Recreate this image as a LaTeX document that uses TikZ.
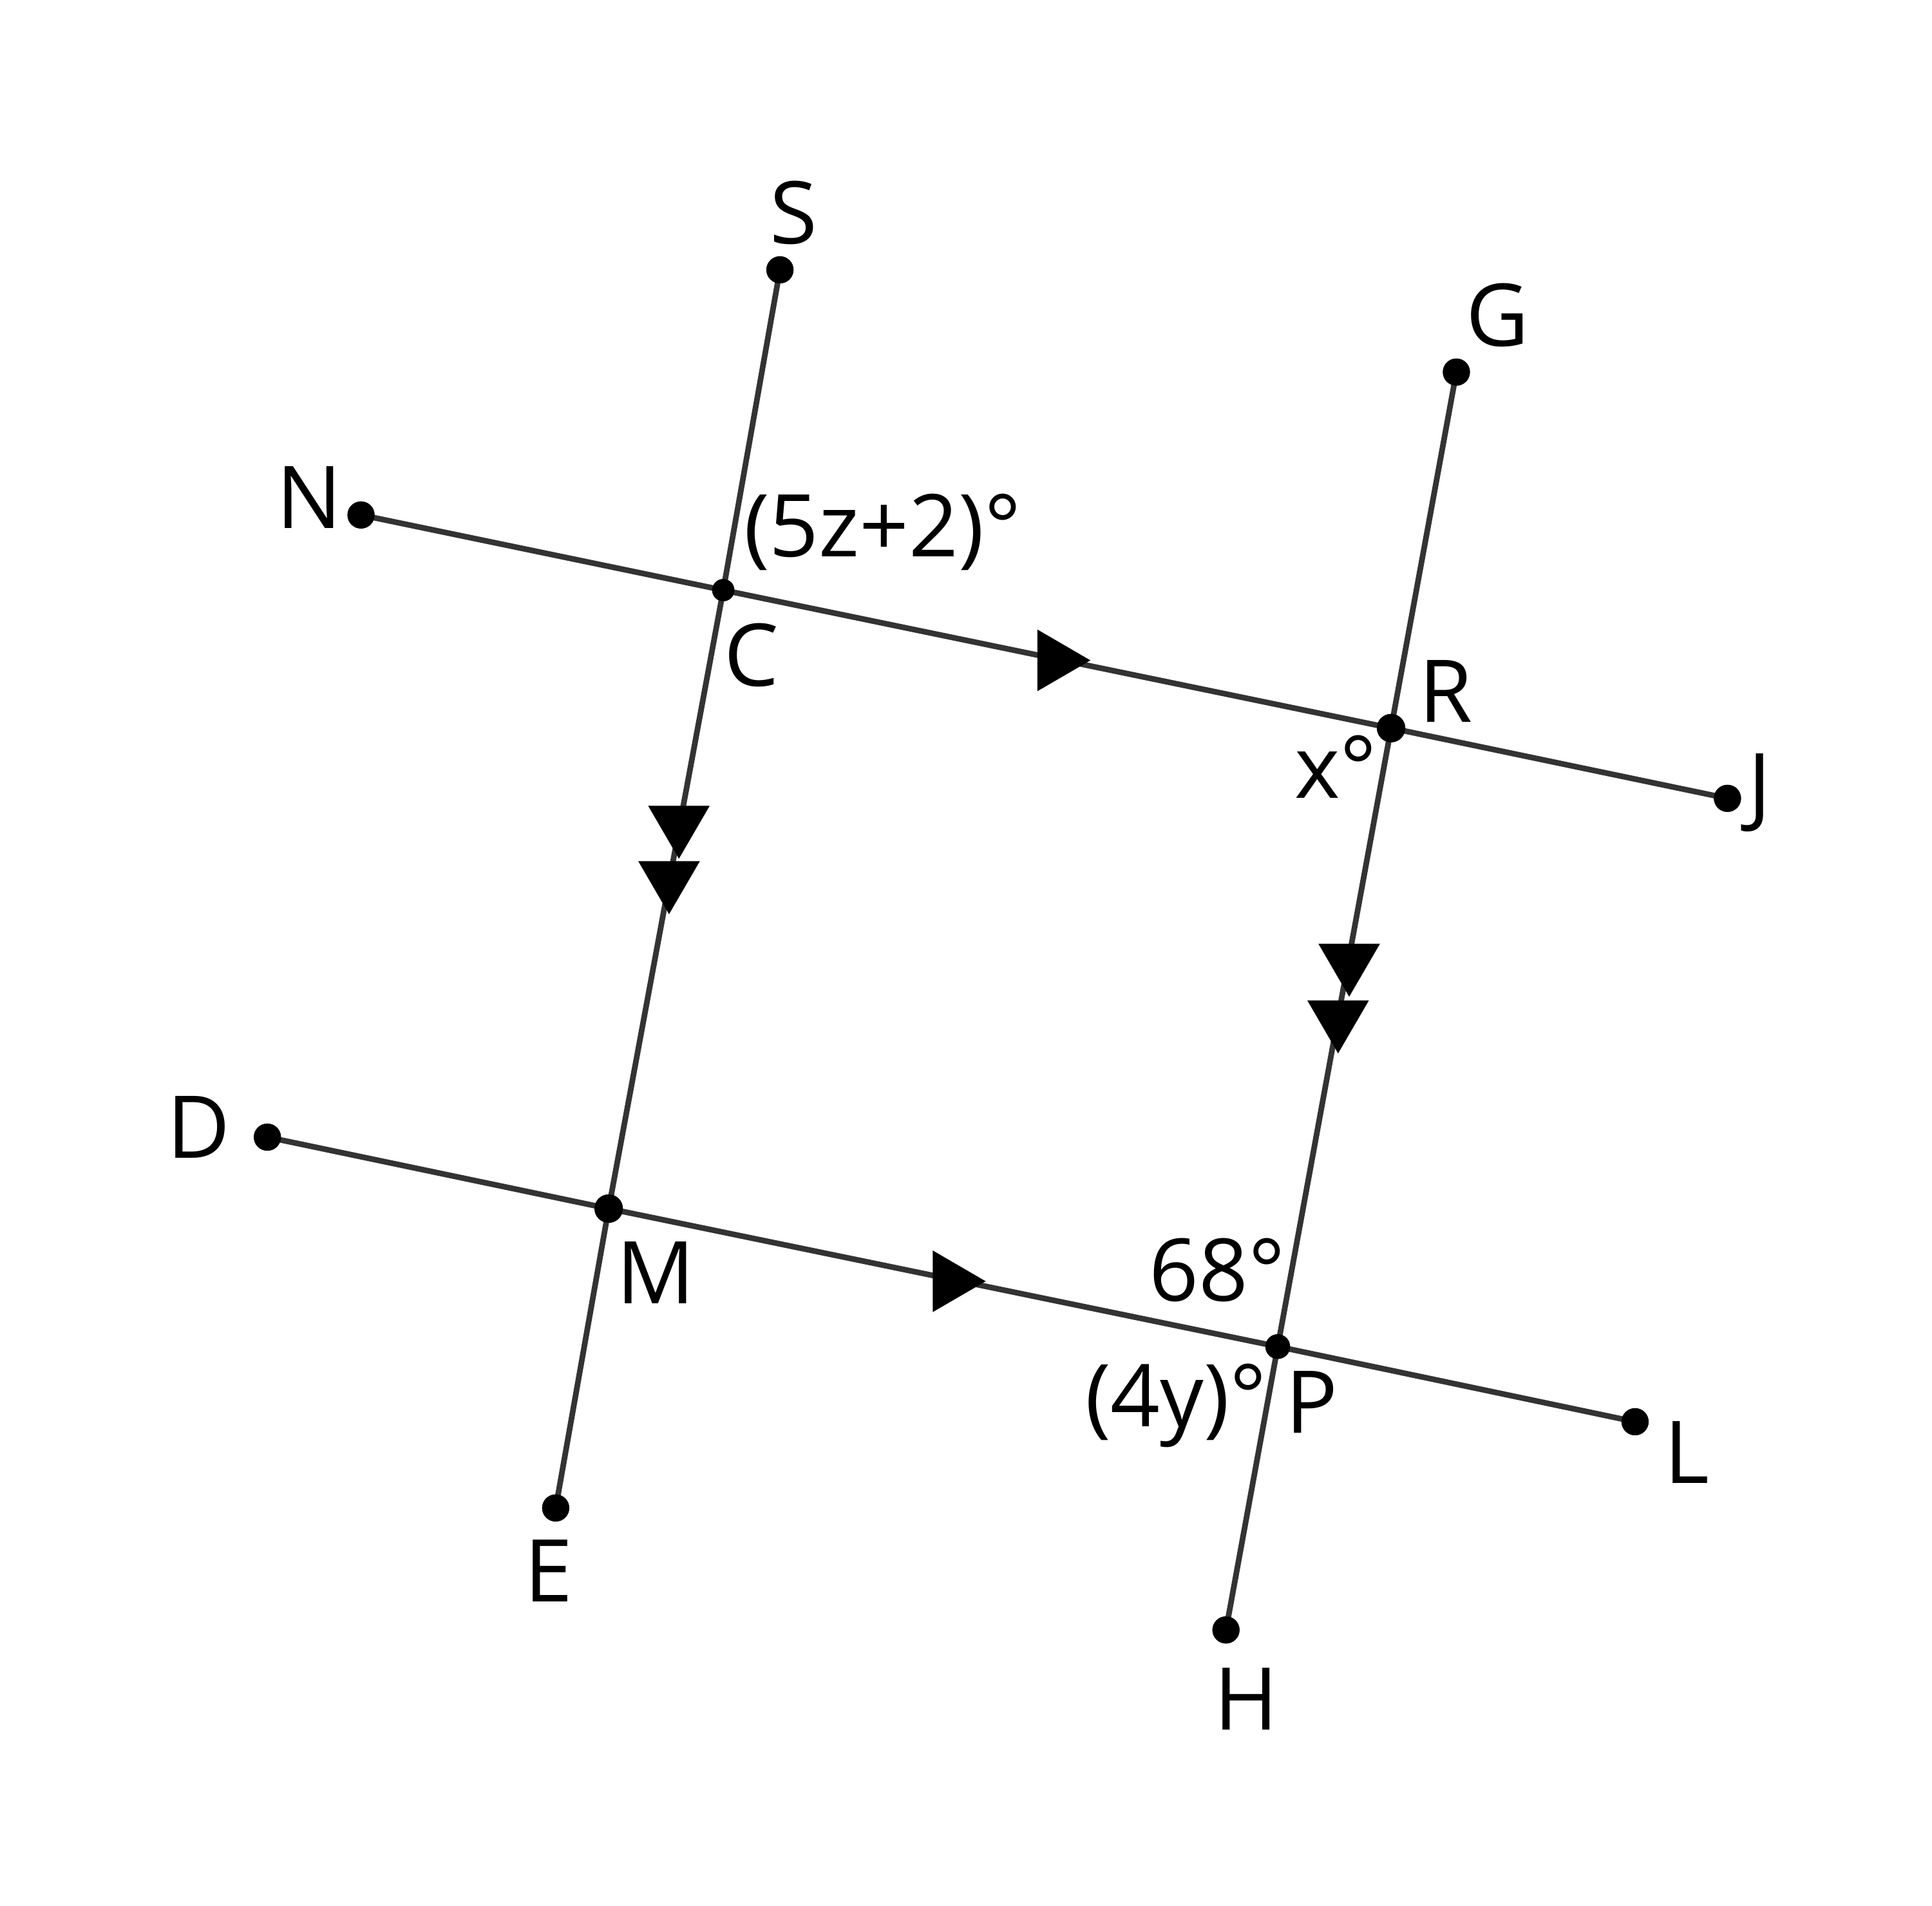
\documentclass[tikz,border=0pt]{standalone}
\usepackage{fontspec}
\setmainfont{Open Sans}
\begin{document}
\begin{tikzpicture}[x=0.01cm,y=-0.01cm,
  ln/.style={line width=1.3pt, draw=black!80},
  dot/.style={circle, fill=black, inner sep=0pt, minimum size=#1},
  lbl/.style={font=\fontsize{20}{24}\selectfont, inner sep=0pt, anchor=base west},
  downtri/.style={fill=black},
  righttri/.style={fill=black}]
\useasboundingbox (0,0) rectangle (1568,1547);
% points
\node[dot=0.22cm] (S) at (633,219) {};
\node[dot=0.22cm] (G) at (1182,302) {};
\node[dot=0.22cm] (N) at (293,418) {};
\node[dot=0.18cm] (C) at (587,479) {};
\node[dot=0.23cm] (R) at (1129,591) {};
\node[dot=0.22cm] (J) at (1402,648) {};
\node[dot=0.22cm] (D) at (217,923) {};
\node[dot=0.23cm] (M) at (494,981) {};
\node[dot=0.2cm] (P) at (1037,1093) {};
\node[dot=0.22cm] (L) at (1327,1154) {};
\node[dot=0.22cm] (E) at (451,1224) {};
\node[dot=0.22cm] (H) at (995,1323) {};
% lines
\draw[ln] (N.center) -- (C.center) -- (R.center) -- (J.center);
\draw[ln] (D.center) -- (M.center) -- (P.center) -- (L.center);
\draw[ln] (S.center) -- (C.center) -- (M.center) -- (E.center);
\draw[ln] (G.center) -- (R.center) -- (P.center) -- (H.center);
% redraw dots over lines
\foreach \n/\s in {S/0.22,G/0.22,N/0.22,C/0.18,R/0.23,J/0.22,D/0.22,M/0.23,P/0.2,L/0.22,E/0.22,H/0.22}
  \fill (\n.center) circle[radius=\s cm/2];
% arrow markers
\fill[downtri, shift={(551,697)}] (0,0) -- (-25,-43) -- (25,-43) -- cycle;
\fill[downtri, shift={(543,742)}] (0,0) -- (-25,-43) -- (25,-43) -- cycle;
\fill[downtri, shift={(1095,809)}] (0,0) -- (-25,-43) -- (25,-43) -- cycle;
\fill[downtri, shift={(1086,855)}] (0,0) -- (-25,-43) -- (25,-43) -- cycle;
\fill[righttri, shift={(885,536)}] (0,0) -- (-43,-25) -- (-43,25) -- cycle;
\fill[righttri, shift={(800,1040)}] (0,0) -- (-43,-25) -- (-43,25) -- cycle;
% labels
\node[lbl] (lS) at (624,198) {S};
\node[lbl] (lG) at (1189,281) {G};
\node[lbl] (lN) at (224,429) {N};
\node[lbl] (lC) at (587,557) {C};
\node[lbl] (lR) at (1151,586) {R};
\node[lbl] (lJ) at (1418,662) {J};
\node[lbl] (lD) at (135,940) {D};
\node[lbl] (lM) at (500,1058) {M};
\node[lbl] (lE) at (425,1300) {E};
\node[lbl] (lH) at (985,1404) {H};
\node[lbl] (lL) at (1350,1204) {L};
\node[lbl] (lP) at (1043,1163) {P};
\node[lbl] (a1) at (603,452) {(5z+2)°};
\node[lbl] (a2) at (1050,648) {x°};
\node[lbl] (a3) at (932,1056) {68°};
\node[lbl] (a4) at (880,1158) {(4y)°};
\end{tikzpicture}
\end{document}
